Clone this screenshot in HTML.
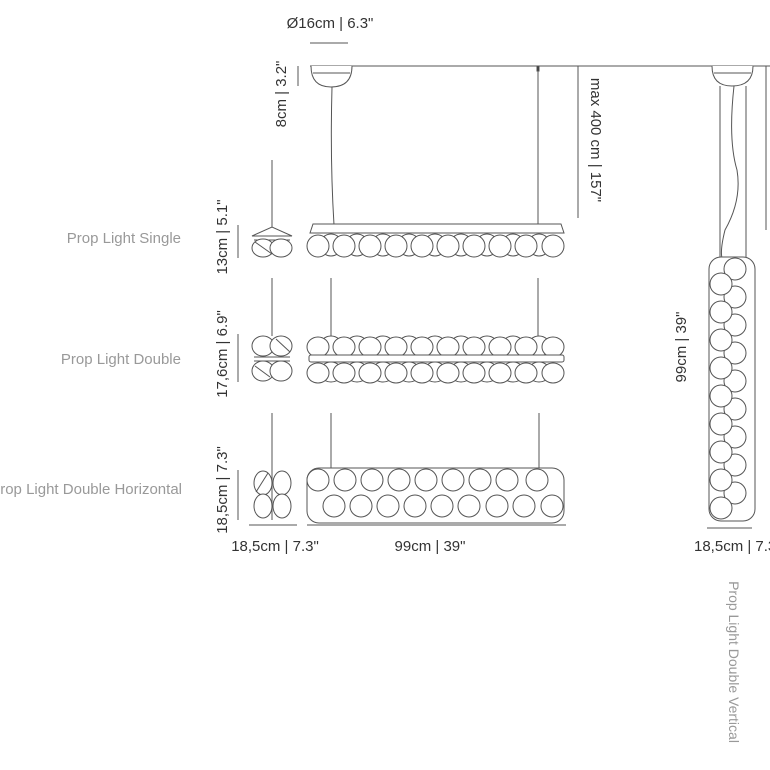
<!DOCTYPE html>
<html><head><meta charset="utf-8"><style>
html,body{margin:0;padding:0;background:#fff;width:770px;height:770px;overflow:hidden}
svg{display:block}
text{font-family:"Liberation Sans",sans-serif}
.d{font-size:15px;fill:#333}
.l{font-size:15px;fill:#999}
</style></head><body>
<svg width="770" height="770" viewBox="0 0 770 770" xmlns="http://www.w3.org/2000/svg">
<defs>
<circle id="c" r="11" fill="#fff" stroke="#555" stroke-width="1"/>
<ellipse id="e" rx="11" ry="10" fill="#fff" stroke="#555" stroke-width="1"/>
</defs>
<g stroke="#555" stroke-width="1" fill="none">
<line x1="310" y1="66" x2="770" y2="66"/>
<path d="M311 66 Q311 87 331 87 Q352 87 352 66" fill="#fff"/>
<line x1="313" y1="73" x2="350" y2="73"/>
<path d="M712 66 Q712 86 732 86 Q753 86 753 66" fill="#fff"/>
<line x1="714" y1="73" x2="751" y2="73"/>
<line x1="310" y1="43" x2="348" y2="43"/>
<line x1="298" y1="66" x2="298" y2="86"/>
<line x1="578" y1="66" x2="578" y2="218"/>
<line x1="766" y1="66" x2="766" y2="230"/>
<path d="M332 87 Q330 160 334 225"/>
<line x1="538" y1="66" x2="538" y2="225"/>
<rect x="537" y="66" width="2" height="5" fill="#333"/>
<line x1="272" y1="160" x2="272" y2="228"/>
<path d="M252 236 L272 227 L292 236 Z" fill="#fff"/>
<line x1="254" y1="240" x2="290" y2="240"/>
<ellipse cx="263" cy="248" rx="11" ry="9" fill="#fff"/>
<ellipse cx="281" cy="248" rx="11" ry="9" fill="#fff"/>
<line x1="255" y1="242" x2="272" y2="254"/>
<line x1="238" y1="225" x2="238" y2="258"/>
<path d="M310 233 L313 224 L561 224 L564 233 Z" fill="#fff"/>
<g>
<use href="#c" x="331" y="245"/><use href="#c" x="357" y="245"/><use href="#c" x="383" y="245"/><use href="#c" x="409" y="245"/><use href="#c" x="435" y="245"/><use href="#c" x="461" y="245"/><use href="#c" x="487" y="245"/><use href="#c" x="513" y="245"/><use href="#c" x="539" y="245"/>
<use href="#c" x="318" y="246"/><use href="#c" x="344" y="246"/><use href="#c" x="370" y="246"/><use href="#c" x="396" y="246"/><use href="#c" x="422" y="246"/><use href="#c" x="448" y="246"/><use href="#c" x="474" y="246"/><use href="#c" x="500" y="246"/><use href="#c" x="526" y="246"/><use href="#c" x="553" y="246"/>
</g>
<line x1="272" y1="278" x2="272" y2="336"/>
<line x1="331" y1="278" x2="331" y2="338"/>
<line x1="538" y1="278" x2="538" y2="338"/>
<ellipse cx="263" cy="346" rx="11" ry="10" fill="#fff"/>
<ellipse cx="281" cy="346" rx="11" ry="10" fill="#fff"/>
<line x1="254" y1="357" x2="290" y2="357"/>
<line x1="254" y1="361" x2="290" y2="361"/>
<ellipse cx="263" cy="371" rx="11" ry="10" fill="#fff"/>
<ellipse cx="281" cy="371" rx="11" ry="10" fill="#fff"/>
<line x1="276" y1="339" x2="290" y2="352"/>
<line x1="255" y1="366" x2="270" y2="377"/>
<line x1="238" y1="334" x2="238" y2="382"/>
<g>
<use href="#e" x="331" y="346"/><use href="#e" x="357" y="346"/><use href="#e" x="383" y="346"/><use href="#e" x="409" y="346"/><use href="#e" x="435" y="346"/><use href="#e" x="461" y="346"/><use href="#e" x="487" y="346"/><use href="#e" x="513" y="346"/><use href="#e" x="539" y="346"/>
<use href="#e" x="318" y="347"/><use href="#e" x="344" y="347"/><use href="#e" x="370" y="347"/><use href="#e" x="396" y="347"/><use href="#e" x="422" y="347"/><use href="#e" x="448" y="347"/><use href="#e" x="474" y="347"/><use href="#e" x="500" y="347"/><use href="#e" x="526" y="347"/><use href="#e" x="553" y="347"/>
</g>
<rect x="309" y="355" width="255" height="7" rx="2" fill="#fff"/>
<g>
<use href="#e" x="331" y="372"/><use href="#e" x="357" y="372"/><use href="#e" x="383" y="372"/><use href="#e" x="409" y="372"/><use href="#e" x="435" y="372"/><use href="#e" x="461" y="372"/><use href="#e" x="487" y="372"/><use href="#e" x="513" y="372"/><use href="#e" x="539" y="372"/>
<use href="#e" x="318" y="373"/><use href="#e" x="344" y="373"/><use href="#e" x="370" y="373"/><use href="#e" x="396" y="373"/><use href="#e" x="422" y="373"/><use href="#e" x="448" y="373"/><use href="#e" x="474" y="373"/><use href="#e" x="500" y="373"/><use href="#e" x="526" y="373"/><use href="#e" x="553" y="373"/>
</g>
<line x1="331" y1="413" x2="331" y2="470"/>
<line x1="539" y1="413" x2="539" y2="470"/>
<ellipse cx="263" cy="483" rx="9" ry="12" fill="#fff"/>
<ellipse cx="282" cy="483" rx="9" ry="12" fill="#fff"/>
<ellipse cx="263" cy="506" rx="9" ry="12" fill="#fff"/>
<ellipse cx="282" cy="506" rx="9" ry="12" fill="#fff"/>
<line x1="256" y1="492" x2="268" y2="473"/>
<line x1="272" y1="413" x2="272" y2="520"/>
<line x1="238" y1="470" x2="238" y2="520"/>
<rect x="307" y="468" width="257" height="55" rx="12" fill="#fff"/>
<g>
<use href="#c" x="318" y="480"/><use href="#c" x="345" y="480"/><use href="#c" x="372" y="480"/><use href="#c" x="399" y="480"/><use href="#c" x="426" y="480"/><use href="#c" x="453" y="480"/><use href="#c" x="480" y="480"/><use href="#c" x="507" y="480"/><use href="#c" x="537" y="480"/>
<use href="#c" x="334" y="506"/><use href="#c" x="361" y="506"/><use href="#c" x="388" y="506"/><use href="#c" x="415" y="506"/><use href="#c" x="442" y="506"/><use href="#c" x="469" y="506"/><use href="#c" x="497" y="506"/><use href="#c" x="524" y="506"/><use href="#c" x="552" y="506"/>
</g>
<line x1="249" y1="525" x2="297" y2="525"/>
<line x1="307" y1="525" x2="566" y2="525"/>
<line x1="720" y1="86" x2="720" y2="258"/>
<line x1="746" y1="86" x2="746" y2="258"/>
<path d="M734 86 Q728 140 737 170 Q742 200 725 230 Q720 250 722 258"/>
<rect x="709" y="257" width="46" height="264" rx="12" fill="#fff"/>
<g>
<use href="#c" x="735" y="269"/><use href="#c" x="735" y="297"/><use href="#c" x="735" y="325"/><use href="#c" x="735" y="353"/><use href="#c" x="735" y="381"/><use href="#c" x="735" y="409"/><use href="#c" x="735" y="437"/><use href="#c" x="735" y="465"/><use href="#c" x="735" y="493"/>
<use href="#c" x="721" y="284"/><use href="#c" x="721" y="312"/><use href="#c" x="721" y="340"/><use href="#c" x="721" y="368"/><use href="#c" x="721" y="396"/><use href="#c" x="721" y="424"/><use href="#c" x="721" y="452"/><use href="#c" x="721" y="480"/><use href="#c" x="721" y="508"/>
</g>
<line x1="707" y1="528" x2="752" y2="528"/>
</g>
<text class="d" x="330" y="28" text-anchor="middle">Ø16cm | 6.3"</text>
<text class="d" transform="translate(286,94) rotate(-90)" text-anchor="middle">8cm | 3.2"</text>
<text class="d" transform="translate(591,140) rotate(90)" text-anchor="middle">max 400 cm | 157"</text>
<text class="l" x="181" y="243" text-anchor="end">Prop Light Single</text>
<text class="l" x="181" y="364" text-anchor="end">Prop Light Double</text>
<text class="l" x="182" y="494" text-anchor="end">Prop Light Double Horizontal</text>
<text class="d" transform="translate(227,237) rotate(-90)" text-anchor="middle">13cm | 5.1"</text>
<text class="d" transform="translate(227,354) rotate(-90)" text-anchor="middle">17,6cm | 6.9"</text>
<text class="d" transform="translate(227,490) rotate(-90)" text-anchor="middle">18,5cm | 7.3"</text>
<text class="d" x="275" y="551" text-anchor="middle">18,5cm | 7.3"</text>
<text class="d" x="430" y="551" text-anchor="middle">99cm | 39"</text>
<text class="d" transform="translate(686,347) rotate(-90)" text-anchor="middle">99cm | 39"</text>
<text class="d" x="694" y="551">18,5cm | 7.3"</text>
<text class="l" transform="translate(729,662) rotate(90)" text-anchor="middle" style="font-size:14px">Prop Light Double Vertical</text>
</svg>
</body></html>
